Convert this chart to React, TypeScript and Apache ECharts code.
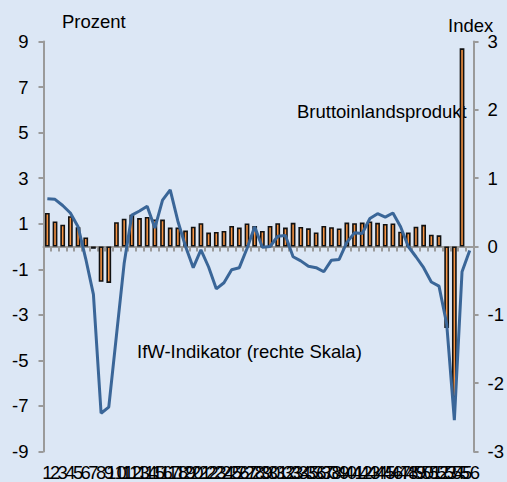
import React, { useEffect, useRef } from "react";
import * as echarts from "echarts";

const categories = Array.from({ length: 56 }, (_, i) => String(i + 1));

// Bruttoinlandsprodukt (Prozent, linke Skala)
const gdp: (number | null)[] = [
  1.47, 1.1, 0.96, 1.33, 0.85, 0.4, -0.1, -1.55, -1.6, 1.07,
  1.22, 1.39, 1.25, 1.3, 1.18, 1.18, 0.83, 0.83, 0.7, 0.87,
  1.02, 0.61, 0.64, 0.68, 0.9, 0.83, 1.01, 0.9, 0.68, 0.9,
  1.02, 0.83, 1.04, 0.86, 0.8, 0.62, 0.9, 0.85, 0.79, 1.05,
  1.02, 1.05, 1.1, 1.04, 0.99, 1.01, 0.65, 0.61, 0.87, 0.95,
  0.52, 0.49, -3.58, -6.62, 8.7, null,
];

// IfW-Indikator (Index, rechte Skala)
const ifw: number[] = [
  0.7, 0.69, 0.6, 0.49, 0.29, -0.18, -0.7, -2.44, -2.35, -1.3,
  -0.25, 0.46, 0.52, 0.59, 0.27, 0.68, 0.83, 0.37, 0.0, -0.31,
  -0.05, -0.3, -0.62, -0.53, -0.34, -0.31, -0.03, 0.29, -0.01, 0.0,
  0.15, 0.16, -0.15, -0.21, -0.29, -0.31, -0.37, -0.2, -0.19, 0.06,
  0.2, 0.19, 0.41, 0.48, 0.43, 0.49, 0.29, 0.0, -0.15, -0.31,
  -0.52, -0.58, -1.13, -2.54, -0.37, -0.06,
];

const leftTickLabels = ["-9", "-7", "-5", "-3", "-1", "1", "3", "5", "7", "9"];
const rightTickLabels = ["-3", "-2", "-1", "0", "1", "2", "3"];

const FONT = "Liberation Sans, Arial, sans-serif";
const FS = 18.5;
const AXIS_GREY = "#9a9a9a";

export default function App() {
  const ref = useRef<HTMLDivElement>(null);
  useEffect(() => {
    if (!ref.current) return;
    const chart = echarts.init(ref.current, undefined, { renderer: "svg" });
    const grid = { left: 43.5, right: 32, top: 41.5, bottom: 30.5 };
    chart.setOption({
      animation: false,
      backgroundColor: "#DCE7F5",
      textStyle: { fontFamily: FONT },
      grid,
      xAxis: [
        {
          type: "category",
          data: categories,
          boundaryGap: true,
          axisLine: { show: true, onZero: true, onZeroAxisIndex: 0, lineStyle: { color: AXIS_GREY, width: 2 } },
          axisTick: { show: true, interval: 0, length: 5, lineStyle: { color: AXIS_GREY, width: 2 } },
          axisLabel: { show: false },
          splitLine: { show: false },
        },
        {
          type: "category",
          data: categories,
          position: "bottom",
          boundaryGap: true,
          axisLine: { show: false, onZero: false },
          axisTick: { show: false },
          axisLabel: { show: true, interval: 0, color: "#000", fontSize: FS, fontFamily: FONT, margin: 11 },
          splitLine: { show: false },
        },
      ],
      yAxis: [
        {
          type: "value",
          min: -9,
          max: 9,
          show: false,
          splitLine: { show: false },
        },
        {
          type: "value",
          position: "right",
          min: -3,
          max: 3,
          interval: 1,
          axisLine: { show: true, lineStyle: { color: AXIS_GREY, width: 2 } },
          axisTick: { show: true, length: 5, lineStyle: { color: AXIS_GREY, width: 2 } },
          axisLabel: {
            color: "#000",
            fontSize: FS,
            fontFamily: FONT,
            margin: 14,
            formatter: (v: number) => rightTickLabels[Math.round(v) + 3],
          },
          splitLine: { show: false },
        },
        {
          type: "value",
          position: "left",
          min: 0,
          max: 18,
          interval: 2,
          axisLine: { show: true, lineStyle: { color: AXIS_GREY, width: 2 } },
          axisTick: { show: true, length: 5, lineStyle: { color: AXIS_GREY, width: 2 } },
          axisLabel: {
            color: "#000",
            fontSize: FS,
            fontFamily: FONT,
            margin: 15,
            formatter: (v: number) => leftTickLabels[Math.round(v / 2)],
          },
          splitLine: { show: false },
        },
      ],
      series: [
        {
          type: "bar",
          name: "Bruttoinlandsprodukt",
          xAxisIndex: 0,
          yAxisIndex: 0,
          data: gdp,
          barWidth: "62%",
          itemStyle: { color: "#F79443", borderColor: "#111", borderWidth: 1.6 },
        },
        {
          type: "line",
          name: "IfW-Indikator",
          xAxisIndex: 0,
          yAxisIndex: 1,
          data: ifw,
          symbol: "none",
          lineStyle: { color: "#3A6698", width: 3 },
          z: 3,
        },
      ],
      graphic: [
        { type: "text", left: 62, top: 12, style: { text: "Prozent", font: `${FS}px ${FONT}`, fill: "#000" } },
        { type: "text", left: 448, top: 16, style: { text: "Index", font: `${FS}px ${FONT}`, fill: "#000" } },
        { type: "text", left: 297, top: 102, style: { text: "Bruttoinlandsprodukt", font: `${FS}px ${FONT}`, fill: "#000" } },
        { type: "text", left: 137, top: 342, style: { text: "IfW-Indikator (rechte Skala)", font: `${FS}px ${FONT}`, fill: "#000" } },
      ],
    });
    return () => chart.dispose();
  }, []);
  return <div ref={ref} style={{ width: 507, height: 482, position: "absolute", left: 0, top: 0 }} />;
}
